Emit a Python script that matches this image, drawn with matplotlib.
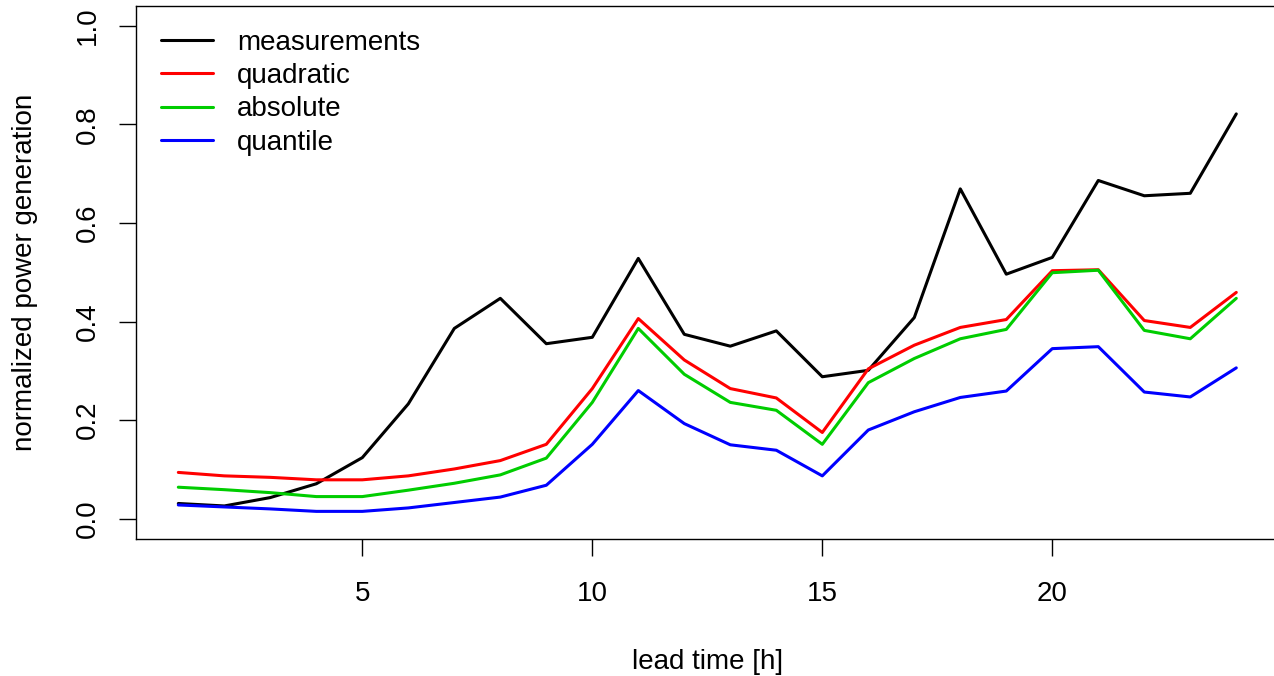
import numpy as np
import matplotlib
matplotlib.use("Agg")
import matplotlib.pyplot as plt

# =====================
# data
# =====================
lead_time = list(range(1, 25))

measurements = [0.031, 0.026, 0.043, 0.071, 0.124, 0.233, 0.386, 0.447, 0.355, 0.368,
                0.528, 0.374, 0.350, 0.381, 0.288, 0.301, 0.408, 0.669, 0.496, 0.530,
                0.686, 0.655, 0.660, 0.821]
quadratic = [0.094, 0.087, 0.084, 0.079, 0.079, 0.087, 0.101, 0.118, 0.151, 0.264,
             0.406, 0.322, 0.264, 0.245, 0.175, 0.304, 0.352, 0.388, 0.404, 0.503,
             0.505, 0.402, 0.388, 0.459]
absolute = [0.064, 0.059, 0.053, 0.045, 0.045, 0.058, 0.072, 0.089, 0.123, 0.236,
            0.386, 0.293, 0.236, 0.220, 0.151, 0.276, 0.325, 0.365, 0.384, 0.499,
            0.504, 0.382, 0.365, 0.447]
quantile = [0.028, 0.024, 0.020, 0.015, 0.015, 0.022, 0.033, 0.044, 0.068, 0.151,
            0.260, 0.193, 0.150, 0.139, 0.087, 0.180, 0.217, 0.246, 0.259, 0.345,
            0.349, 0.257, 0.247, 0.306]

series_names = ["measurements", "quadratic", "absolute", "quantile"]
series_colors = ["black", "#FF0000", "#00CD00", "#0000FF"]

x_ticks = [5, 10, 15, 20]
y_ticks = [0.0, 0.2, 0.4, 0.6, 0.8, 1.0]

# =====================
# plot
# =====================
plt.rcParams["font.family"] = ["Liberation Sans", "DejaVu Sans"]
plt.rcParams["font.size"] = 20

fig = plt.figure(figsize=(12.74, 6.76), dpi=100)
ax = fig.add_axes([136 / 1274, 137.5 / 676, 1142.6 / 1274, 532.6 / 676])

for vals, name, col in zip([measurements, quadratic, absolute, quantile],
                           series_names, series_colors):
    ax.plot(lead_time, vals, color=col, lw=2.2, label=name,
            solid_joinstyle="round", solid_capstyle="round")

# R style 4% padding
ax.set_xlim(1 - 0.04 * 23, 24 + 0.04 * 23)
ax.set_ylim(-0.04, 1.04)

ax.set_xticks(x_ticks)
ax.set_xticklabels([str(t) for t in x_ticks])
ax.set_yticks(y_ticks)
ax.set_yticklabels(["%.1f" % t for t in y_ticks], rotation=90, va="center")

ax.tick_params(axis="both", direction="out", length=12.5, width=1.0, labelsize=20)
ax.tick_params(axis="x", pad=18)
ax.tick_params(axis="y", pad=13)
for s in ax.spines.values():
    s.set_linewidth(1.0)

ax.set_xlabel("lead time [h]", fontsize=20, labelpad=30)
ax.set_ylabel("normalized power generation", fontsize=20, labelpad=26)

ax.legend(loc="upper left", bbox_to_anchor=(0.0216, 0.955), frameon=False,
          borderpad=0, borderaxespad=0, handlelength=1.9, handletextpad=0.86,
          labelspacing=0.26, fontsize=20)

plt.savefig("out.png", dpi=100)
